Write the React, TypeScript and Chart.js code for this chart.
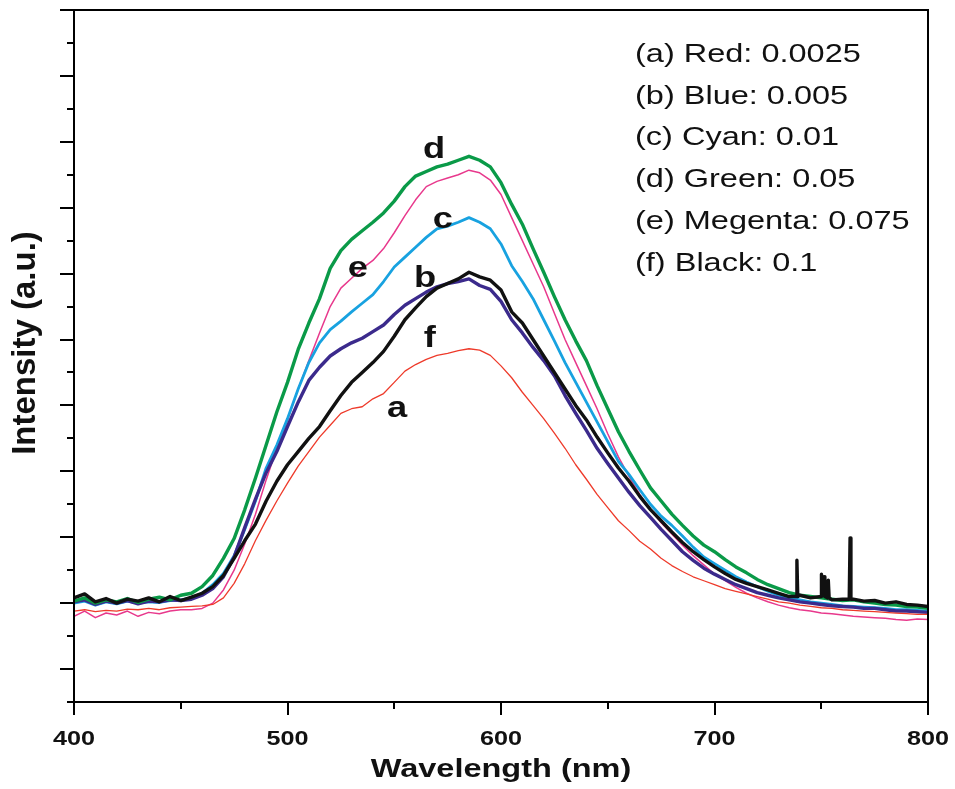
import React, { useEffect, useRef } from "react";
import { Chart, registerables } from "chart.js";

Chart.register(...registerables);

// ---------- data ----------
const wavelengths = [
  400, 405, 410, 415, 420, 425, 430, 435, 440, 445,
  450, 455, 460, 465, 470, 475, 480, 485, 490, 495,
  500, 505, 510, 515, 520, 525, 530, 535, 540, 545,
  550, 555, 560, 565, 570, 575, 580, 585, 590, 595,
  600, 605, 610, 615, 620, 625, 630, 635, 640, 645,
  650, 655, 660, 665, 670, 675, 680, 685, 690, 695,
  700, 705, 710, 715, 720, 725, 730, 735, 740, 745,
  750, 755, 760, 765, 770, 775, 780, 785, 790, 795, 800,
];

const redA = [
  -0.12, -0.10, -0.13, -0.11, -0.12, -0.09, -0.10, -0.08, -0.10, -0.07, -0.06, -0.05,
  -0.04, -0.02, 0.08, 0.30, 0.60, 0.95, 1.26, 1.55,
  1.82, 2.08, 2.30, 2.52, 2.70, 2.88, 2.95, 2.98, 3.10, 3.18,
  3.35, 3.52, 3.62, 3.70, 3.76, 3.79, 3.83, 3.86, 3.84, 3.76,
  3.60, 3.42, 3.20, 3.00, 2.80, 2.58, 2.35, 2.10, 1.88, 1.65,
  1.45, 1.25, 1.10, 0.94, 0.82, 0.68, 0.57, 0.48, 0.40, 0.34,
  0.28, 0.22, 0.18, 0.14, 0.10, 0.06, 0.02, 0.00, -0.03, -0.05,
  -0.07, -0.08, -0.10, -0.11, -0.12, -0.13, -0.14, -0.15, -0.16, -0.17, -0.17,
];

const blueB = [
  0.02, 0.05, -0.02, 0.03, 0.00, 0.04, -0.01, 0.03, 0.02, 0.05, 0.04, 0.06,
  0.12, 0.22, 0.40, 0.70, 1.15, 1.58, 1.98, 2.30,
  2.68, 3.05, 3.38, 3.58, 3.75, 3.86, 3.95, 4.02, 4.12, 4.22,
  4.38, 4.52, 4.62, 4.72, 4.80, 4.85, 4.88, 4.92, 4.82, 4.76,
  4.58, 4.30, 4.10, 3.88, 3.68, 3.45, 3.15, 2.88, 2.62, 2.35,
  2.12, 1.90, 1.68, 1.48, 1.30, 1.12, 0.95, 0.78, 0.65, 0.53,
  0.44, 0.36, 0.28, 0.22, 0.16, 0.12, 0.08, 0.05, 0.02, 0.00,
  -0.02, -0.04, -0.05, -0.06, -0.08, -0.08, -0.10, -0.12, -0.12, -0.13, -0.14,
];

const cyanC = [
  0.00, 0.03, -0.03, 0.02, -0.01, 0.03, 0.00, 0.02, 0.01, 0.04, 0.05, 0.08,
  0.15, 0.28, 0.45, 0.72, 1.12, 1.55, 2.05, 2.40,
  2.80, 3.25, 3.65, 3.95, 4.15, 4.28, 4.42, 4.55, 4.68, 4.88,
  5.10, 5.25, 5.40, 5.55, 5.68, 5.72, 5.78, 5.85, 5.78, 5.68,
  5.45, 5.12, 4.88, 4.62, 4.30, 3.98, 3.65, 3.35, 3.05, 2.75,
  2.45, 2.15, 1.95, 1.72, 1.50, 1.32, 1.18, 1.02, 0.85, 0.70,
  0.60, 0.50, 0.40, 0.32, 0.25, 0.18, 0.12, 0.08, 0.05, 0.02,
  0.00, -0.02, -0.04, -0.05, -0.06, -0.07, -0.08, -0.10, -0.10, -0.11, -0.12,
];

const greenD = [
  0.03, 0.08, 0.00, 0.05, 0.02, 0.07, 0.01, 0.06, 0.09, 0.05, 0.12, 0.15,
  0.25, 0.42, 0.68, 0.98, 1.42, 1.90, 2.40, 2.90,
  3.35, 3.85, 4.25, 4.62, 5.08, 5.35, 5.52, 5.65, 5.78, 5.92,
  6.10, 6.32, 6.48, 6.55, 6.62, 6.66, 6.72, 6.78, 6.72, 6.62,
  6.38, 6.05, 5.75, 5.38, 5.02, 4.65, 4.30, 3.98, 3.68, 3.30,
  2.95, 2.60, 2.30, 2.02, 1.75, 1.55, 1.35, 1.18, 1.02, 0.88,
  0.78, 0.66, 0.55, 0.46, 0.36, 0.28, 0.22, 0.16, 0.12, 0.10,
  0.08, 0.06, 0.04, 0.05, 0.02, 0.00, -0.02, -0.03, -0.05, -0.06, -0.08,
];

const magentaE = [
  -0.20, -0.12, -0.22, -0.15, -0.18, -0.12, -0.20, -0.14, -0.16, -0.12, -0.10, -0.10,
  -0.08, 0.00, 0.20, 0.50, 0.90, 1.35, 1.87, 2.35,
  2.78, 3.25, 3.68, 4.10, 4.50, 4.78, 4.93, 5.08, 5.20, 5.38,
  5.62, 5.88, 6.12, 6.32, 6.40, 6.45, 6.50, 6.57, 6.53, 6.42,
  6.20, 5.85, 5.50, 5.15, 4.80, 4.40, 4.00, 3.65, 3.30, 2.95,
  2.57, 2.22, 1.92, 1.65, 1.42, 1.22, 1.05, 0.88, 0.72, 0.58,
  0.44, 0.34, 0.24, 0.15, 0.08, 0.02, -0.03, -0.07, -0.10, -0.12,
  -0.15, -0.16, -0.18, -0.20, -0.21, -0.22, -0.23, -0.25, -0.26, -0.24, -0.25,
];

const blackF = [
  0.08, 0.14, 0.02, 0.07, 0.00, 0.06, 0.03, 0.08, 0.02, 0.10, 0.04, 0.09,
  0.15, 0.25, 0.42, 0.68, 0.95, 1.20, 1.55, 1.85,
  2.10, 2.30, 2.50, 2.68, 2.92, 3.15, 3.35, 3.50, 3.65, 3.82,
  4.05, 4.30, 4.48, 4.65, 4.78, 4.85, 4.92, 5.02, 4.95, 4.90,
  4.75, 4.42, 4.25, 4.00, 3.75, 3.50, 3.25, 3.00, 2.78, 2.52,
  2.28, 2.05, 1.85, 1.62, 1.42, 1.25, 1.08, 0.92, 0.78, 0.66,
  0.55, 0.45, 0.36, 0.30, 0.25, 0.20, 0.15, 0.10, 0.12, 0.08,
  0.10, 0.05, 0.06, 0.06, 0.03, 0.04, 0.00, 0.02, -0.02, -0.03, -0.05,
];

// narrow emission spikes on the black trace
const blackSpikeWl = [738.2, 738.6, 739.0, 749.9, 750.2, 750.6, 751.0, 751.3, 751.7, 753.0, 753.3, 753.7, 763.1, 763.5, 763.9];
const blackSpikeVal = [0.10, 0.65, 0.10, 0.10, 0.44, 0.12, 0.12, 0.40, 0.10, 0.08, 0.35, 0.08, 0.06, 0.99, 0.06];

const seriesNames = ["a", "b", "c", "d", "e", "f"];
const seriesColors = ["#EE3A2A", "#3B2A8C", "#18A2E0", "#0A9A48", "#E8388C", "#111111"];
const seriesWidths = [1.3, 3.4, 2.8, 3.4, 1.5, 3.4];
const seriesOrder = [1, 3, 4, 2, 5, 0];

const legendLines = [
  "(a) Red: 0.0025",
  "(b) Blue: 0.005",
  "(c) Cyan: 0.01",
  "(d) Green: 0.05",
  "(e) Megenta: 0.075",
  "(f) Black: 0.1",
];

// curve letter anchors (wavelength, intensity at text baseline)
const letterWl = [551.3, 564.4, 572.8, 568.6, 532.9, 566.7];
const letterVal = [2.82, 4.80, 5.69, 6.75, 4.95, 3.88];

const xMajorTicks = [400, 500, 600, 700, 800];
const xMinorTicks = [450, 550, 650, 750];
const xTickLabels = ["400", "500", "600", "700", "800"];
const yMajorTicks = [-1, 0, 1, 2, 3, 4, 5, 6, 7, 8, 9];
const yMinorTicks = [-1.5, -0.5, 0.5, 1.5, 2.5, 3.5, 4.5, 5.5, 6.5, 7.5, 8.5];

const X_MIN = 400;
const X_MAX = 800;
const Y_MIN = -1.5;
const Y_MAX = 9;

const FONT = "'Liberation Sans', Arial, Helvetica, sans-serif";

function toPoints(xs: number[], ys: number[]) {
  return xs.map((x, i) => ({ x, y: ys[i] }));
}

function mergeSorted(a: { x: number; y: number }[], b: { x: number; y: number }[]) {
  return [...a, ...b].sort((p, q) => p.x - q.x);
}

const decorPlugin = {
  id: "decor",
  afterDraw(chart: any) {
    const { ctx, chartArea: a, scales } = chart;
    const xs = scales.x;
    const ys = scales.y;
    ctx.save();
    ctx.strokeStyle = "#000";
    ctx.lineWidth = 2;
    ctx.lineCap = "butt";
    ctx.strokeRect(a.left, a.top, a.right - a.left, a.bottom - a.top);

    ctx.beginPath();
    for (const v of xMajorTicks) {
      const px = Math.round(xs.getPixelForValue(v));
      ctx.moveTo(px, a.bottom);
      ctx.lineTo(px, a.bottom + 13);
    }
    for (const v of xMinorTicks) {
      const px = Math.round(xs.getPixelForValue(v));
      ctx.moveTo(px, a.bottom);
      ctx.lineTo(px, a.bottom + 7);
    }
    for (const v of yMajorTicks) {
      const py = Math.round(ys.getPixelForValue(v));
      ctx.moveTo(a.left, py);
      ctx.lineTo(a.left - 14, py);
    }
    for (const v of yMinorTicks) {
      const py = Math.round(ys.getPixelForValue(v));
      ctx.moveTo(a.left, py);
      ctx.lineTo(a.left - 7, py);
    }
    ctx.stroke();

    const drawText = (text: string, x: number, y: number, font: string, sx: number, align: CanvasTextAlign) => {
      ctx.save();
      ctx.translate(x, y);
      ctx.scale(sx, 1);
      ctx.font = font;
      ctx.fillStyle = "#111";
      ctx.textAlign = align;
      ctx.textBaseline = "alphabetic";
      ctx.fillText(text, 0, 0);
      ctx.restore();
    };

    // x tick labels
    xMajorTicks.forEach((v, i) => {
      drawText(xTickLabels[i], xs.getPixelForValue(v), 745, `bold 21px ${FONT}`, 1.2, "center");
    });

    // x title
    drawText("Wavelength (nm)", (a.left + a.right) / 2, 777, `bold 25px ${FONT}`, 1.3, "center");

    // y title
    ctx.save();
    ctx.translate(35, 343);
    ctx.rotate(-Math.PI / 2);
    ctx.font = `bold 33px ${FONT}`;
    ctx.fillStyle = "#111";
    ctx.textAlign = "center";
    ctx.textBaseline = "alphabetic";
    ctx.fillText("Intensity (a.u.)", 0, 0);
    ctx.restore();

    // legend text
    legendLines.forEach((t, i) => {
      drawText(t, 635, 62 + i * 41.7, `25px ${FONT}`, 1.3, "left");
    });

    // curve letters
    seriesNames.forEach((n, i) => {
      drawText(n, xs.getPixelForValue(letterWl[i]), ys.getPixelForValue(letterVal[i]), `bold 29px ${FONT}`, 1.25, "center");
    });

    ctx.restore();
  },
};

export default function App() {
  const canvasRef = useRef<HTMLCanvasElement | null>(null);

  useEffect(() => {
    const canvas = canvasRef.current;
    if (!canvas) return;
    const allSeries = [redA, blueB, cyanC, greenD, magentaE, blackF];
    const datasets = allSeries.map((vals, i) => {
      let pts = toPoints(wavelengths, vals);
      if (seriesNames[i] === "f") {
        pts = mergeSorted(pts, toPoints(blackSpikeWl, blackSpikeVal));
      }
      return {
        label: seriesNames[i],
        data: pts,
        borderColor: seriesColors[i],
        backgroundColor: seriesColors[i],
        borderWidth: seriesWidths[i],
        pointRadius: 0,
        tension: 0,
        fill: false,
        order: seriesOrder[i],
        borderJoinStyle: "round" as const,
      };
    });

    const chart = new Chart(canvas, {
      type: "line",
      data: { datasets },
      options: {
        responsive: false,
        animation: false,
        devicePixelRatio: 1,
        layout: { padding: { left: 74, right: 27, top: 10, bottom: 87 } },
        plugins: { legend: { display: false }, tooltip: { enabled: false } },
        scales: {
          x: { type: "linear", min: X_MIN, max: X_MAX, display: false },
          y: { type: "linear", min: Y_MIN, max: Y_MAX, display: false },
        },
      },
      plugins: [decorPlugin],
    });
    return () => chart.destroy();
  }, []);

  return (
    <div style={{ position: "fixed", left: 0, top: 0, width: 955, height: 789, background: "#fff" }}>
      <canvas ref={canvasRef} width={955} height={789} style={{ display: "block" }} />
    </div>
  );
}
